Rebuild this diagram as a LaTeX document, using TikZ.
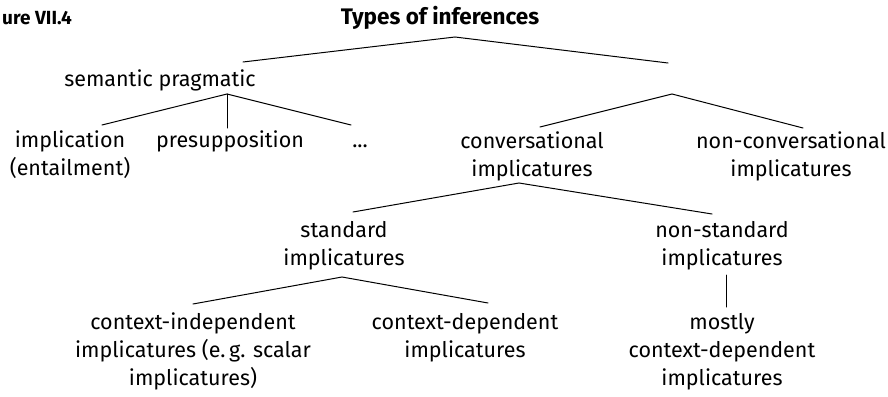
\documentclass[tikz,border=0pt]{standalone}
\usepackage{fontspec}
\setmainfont{Fira Sans}
\begin{document}
\begin{tikzpicture}[x=1pt,y=-1pt,
  txt/.style={font=\fontsize{21.5}{28}\selectfont, align=center, inner sep=0pt, anchor=base},
  head/.style={font=\fontsize{22.5}{28}\selectfont\bfseries, inner sep=0pt, anchor=base},
  ln/.style={line width=1pt, line cap=round}]
\useasboundingbox (0,0) rectangle (888,396);
% texts (anchor = baseline of last line)
\node[head, anchor=base west, font=\fontsize{19}{28}\selectfont\bfseries] (fig) at (2,25) {ure VII.4};
\node[head] (title) at (440,25) {Types of inferences};
\node[txt] (sp) at (160,86) {semantic pragmatic};
\node[txt] (impl) at (70,175) {implication\\(entailment)};
\node[txt] (pres) at (230,147) {presupposition};
\node[txt] (dots) at (360,147) {...};
\node[txt] (conv) at (532,176) {conversational\\implicatures};
\node[txt] (nonconv) at (791,176) {non-conversational\\implicatures};
\node[txt] (std) at (344,265) {standard\\implicatures};
\node[txt] (nonstd) at (722,265) {non-standard\\implicatures};
\node[txt] (ci) at (193,385) {context-independent\\implicatures (e.\,g. scalar\\implicatures)};
\node[txt] (cd) at (465,357) {context-dependent\\implicatures};
\node[txt] (mcd) at (722,385) {mostly\\context-dependent\\implicatures};
% branch points
\coordinate (tA) at (455,37);
\coordinate (tL) at (243,62);
\coordinate (tR) at (668,63);
\coordinate (spA) at (227,94);
\coordinate (spL) at (102,125);
\coordinate (spM) at (227,128);
\coordinate (spR) at (351,125);
\coordinate (rA) at (672,94);
\coordinate (rL) at (540,127);
\coordinate (rR) at (803,128);
\coordinate (cA) at (519,183);
\coordinate (cL) at (353,212);
\coordinate (cR) at (712,214);
\coordinate (sA) at (342,277);
\coordinate (sL) at (193,304);
\coordinate (sR) at (488,303);
\coordinate (nT) at (726,275);
\coordinate (nB) at (726,307);
% connectors
\draw[ln] (tL) -- (tA) -- (tR);
\draw[ln] (spL) -- (spA) -- (spR);
\draw[ln] (spA) -- (spM);
\draw[ln] (rL) -- (rA) -- (rR);
\draw[ln] (cL) -- (cA) -- (cR);
\draw[ln] (sL) -- (sA) -- (sR);
\draw[ln] (nT) -- (nB);
\end{tikzpicture}
\end{document}
